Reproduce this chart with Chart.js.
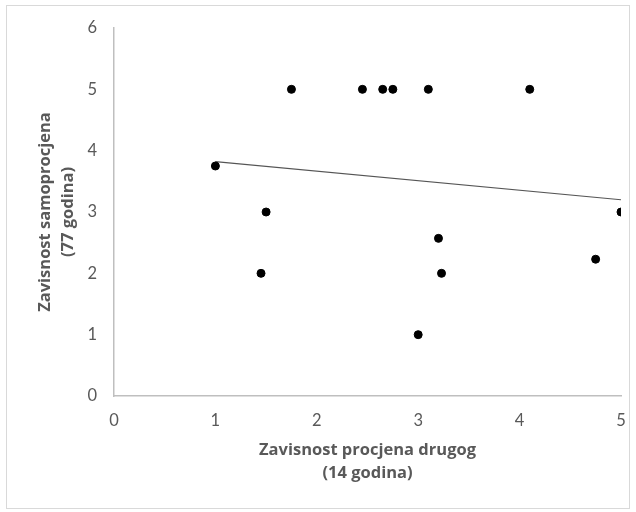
<!DOCTYPE html>
<html>
<head>
<meta charset="utf-8">
<script src="https://cdn.jsdelivr.net/npm/chart.js@4/dist/chart.umd.min.js"></script>
<style>
body { margin: 0; background: #fff; }
#wrap { position: relative; width: 636px; height: 512px; }
#frame { position: absolute; left: 6px; top: 5px; width: 622px; height: 502px; border: 1.5px solid #d9d9d9; }
#chart { position: absolute; left: 0; top: 0; }
</style>
</head>
<body>
<div id="wrap">
<div id="frame"></div>
<canvas id="chart" width="636" height="512"></canvas>
</div>
<script>
// tocke (procjena drugog, samoprocjena)
var x_values = [1, 1.45, 1.5, 1.75, 2.45, 2.65, 2.75, 3.0, 3.1, 3.2, 3.23, 4.1, 4.75, 5];
var y_values = [3.75, 2, 3, 5, 5, 5, 5, 1, 5, 2.57, 2, 5, 2.23, 3];

// linija trenda - krajnje tocke ocitane sa slike
var trend_x = [1, 5];
var trend_y = [3.82, 3.2];

var x_title = ['Zavisnost procjena drugog', '(14 godina)'];
var y_title = ['Zavisnost samoprocjena', '(77 godina)'];

var points = x_values.map(function (x, i) { return { x: x, y: y_values[i] }; });
var trend = trend_x.map(function (x, i) { return { x: x, y: trend_y[i] }; });

var gray = '#595959';

var scatter_chart = new Chart(document.getElementById('chart'), {
    type: 'scatter',
    data: {
        datasets: [{
            label: 'tocke',
            data: points,
            backgroundColor: '#000000',
            borderColor: '#000000',
            pointRadius: 4,
            pointHoverRadius: 4,
        },
        {
            type: 'line',
            label: 'trend',
            data: trend,
            borderColor: '#555555',
            borderWidth: 1.2,
            pointRadius: 0,
            fill: false,
        }]
    },
    options: {
        responsive: false,
        animation: false,
        layout: {
            padding: { left: 0, right: 15, top: 28, bottom: 0 }
        },
        plugins: {
            legend: { display: false },
            tooltip: { enabled: false },
        },
        scales: {
            x: {
                type: 'linear',
                min: 0,
                max: 5,
                grid: { display: true, drawOnChartArea: false, drawTicks: false },
                border: { display: true, color: '#bfbfbf', width: 1.5 },
                ticks: {
                    stepSize: 1,
                    padding: 15,
                    color: gray,
                    font: { family: 'Lato', size: 16.5 }
                },
                title: {
                    display: true,
                    text: x_title,
                    color: gray,
                    padding: { top: 0, bottom: 27 },
                    font: { family: 'Open Sans', size: 16.5, weight: 'bold', lineHeight: '23px' }
                },
                afterFit: function (scale) {
                    scale.height = 116;
                    scale.paddingLeft = 0;
                    scale.paddingRight = 0;
                }
            },
            y: {
                type: 'linear',
                min: 0,
                max: 6,
                grid: { display: true, drawOnChartArea: false, drawTicks: false },
                border: { display: true, color: '#bfbfbf', width: 1.5 },
                ticks: {
                    stepSize: 1,
                    padding: 17,
                    color: gray,
                    font: { family: 'Lato', size: 16.5 }
                },
                title: {
                    display: true,
                    text: y_title,
                    color: gray,
                    padding: { top: 34, bottom: 0 },
                    font: { family: 'Open Sans', size: 16.5, weight: 'bold', lineHeight: '23px' }
                },
                afterFit: function (scale) {
                    scale.width = 114;
                    scale.paddingTop = 0;
                    scale.paddingBottom = 0;
                }
            }
        }
    }
});
</script>
</body>
</html>
